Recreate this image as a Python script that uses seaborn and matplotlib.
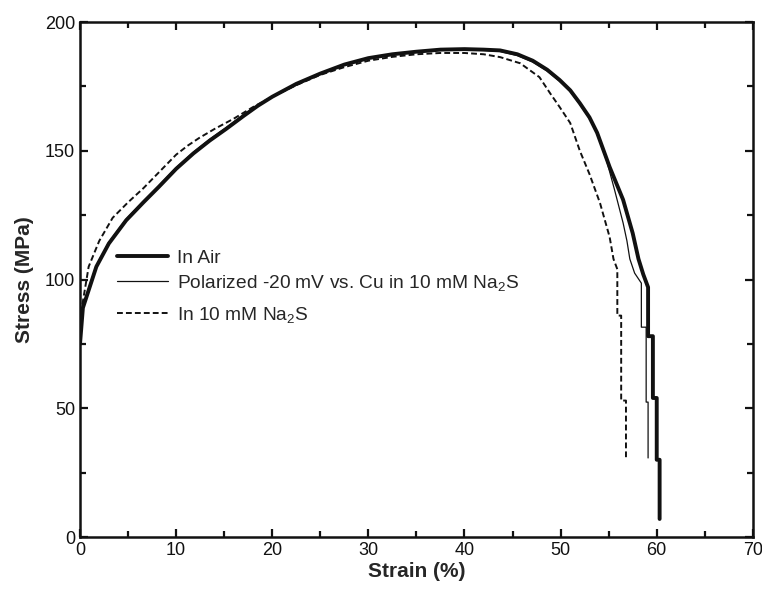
import matplotlib
matplotlib.use("Agg")
import matplotlib.pyplot as plt
import seaborn as sns
from matplotlib.ticker import MultipleLocator

# Engineering stress-strain curves (strain in %, stress in MPa)
air_strain = [0, 0.3, 1.7, 3, 4.8, 6.6, 8.2, 10, 11.8, 13.5, 15.2, 17, 18.5, 20,
              22.5, 25, 27.5, 30, 32.5, 35, 37.5, 40, 42, 43.7, 45.5, 47.1, 48.6,
              49.9, 51, 52, 53, 53.8, 55.1, 56.5, 57.5, 58.1, 58.6, 59.1,
              59.1, 59.6, 59.6, 60.0, 60.0, 60.3, 60.3]
air_stress = [75, 89, 105, 114, 123, 130, 136, 143, 149, 154, 158.5, 163.5, 167.5,
              171, 176, 180, 183.5, 186, 187.5, 188.5, 189.3, 189.5, 189.3, 189,
              187.5, 185, 181.5, 177.5, 173.5, 168.5, 163, 157, 143.7, 131, 118,
              108, 102, 97, 78, 78, 54, 54, 30, 30, 7]

pol_strain = [0, 0.3, 1.7, 3, 4.8, 6.6, 8.2, 10, 11.8, 13.5, 15.2, 17, 18.5, 20,
              22.5, 25, 27.5, 30, 32.5, 35, 37.5, 40, 42, 43.7, 45.5, 47.1, 48.6,
              49.9, 51, 52, 53, 53.8, 54.8, 55.6, 56.5, 56.9, 57.2, 57.7, 58.4,
              58.4, 58.9, 58.9, 59.1, 59.1]
pol_stress = [78, 90, 105.5, 114.5, 123.5, 130.5, 136.5, 143.5, 149.5, 154.5, 159,
              164, 167.5, 171, 175.5, 180, 183.5, 186, 187.5, 188.5, 189.2, 189.3,
              189, 188.6, 187, 184.5, 181, 177, 173, 168, 162.5, 156.5, 146, 135,
              122, 115, 108, 102.5, 98.6, 81.5, 81.5, 52.4, 52.4, 30.7]

na2s_strain = [0, 0.1, 0.9, 2, 3.4, 5, 6.6, 8.3, 10, 11.2, 12.4, 14, 16, 18, 20,
               22.5, 25, 27.5, 30, 32.5, 35, 37.5, 40, 42, 43.7, 45.8, 47.8, 48.9,
               49.9, 51, 52, 53, 54.1, 55.1, 55.5, 55.9, 55.9, 56.3, 56.3, 56.8,
               56.8]
na2s_stress = [80, 87, 105, 115, 124, 130, 135.5, 142, 148.5, 152, 155, 158.5,
               162.5, 167, 171, 175.5, 179.5, 182.5, 185, 186.5, 187.5, 188, 188,
               187.5, 186.4, 184, 178.6, 172.4, 167, 160.8, 150, 141, 129.7, 116.5,
               108, 104, 86, 86, 53, 53, 31]

labels = ["In Air",
          r"Polarized -20 mV vs. Cu in 10 mM Na$_\mathregular{2}$S",
          r"In 10 mM Na$_\mathregular{2}$S"]

sns.set_style("ticks")
plt.rcParams["font.family"] = ["Liberation Sans", "DejaVu Sans"]
plt.rcParams["mathtext.fontset"] = "custom"
plt.rcParams["mathtext.rm"] = "Liberation Sans"
plt.rcParams["mathtext.it"] = "Liberation Sans:italic"
plt.rcParams["mathtext.bf"] = "Liberation Sans:bold"

fig = plt.figure(figsize=(7.62, 5.97), dpi=100)
ax = fig.add_axes([0.105, 0.1005, 0.883, 0.8625])

sns.lineplot(x=air_strain, y=air_stress, sort=False, estimator=None, ax=ax,
             color="#111111", linewidth=2.8, label=labels[0])
sns.lineplot(x=pol_strain, y=pol_stress, sort=False, estimator=None, ax=ax,
             color="#111111", linewidth=0.9, label=labels[1])
sns.lineplot(x=na2s_strain, y=na2s_stress, sort=False, estimator=None, ax=ax,
             color="#111111", linewidth=1.4, label=labels[2])
ax.lines[2].set_dashes([3.0, 1.6])

ax.set_xlim(0, 70)
ax.set_ylim(0, 200)
ax.xaxis.set_major_locator(MultipleLocator(10))
ax.xaxis.set_minor_locator(MultipleLocator(5))
ax.yaxis.set_major_locator(MultipleLocator(50))
ax.yaxis.set_minor_locator(MultipleLocator(25))
ax.tick_params(which="both", direction="in", top=True, right=True, width=1.6,
               labelsize=13, colors="#111111")
ax.tick_params(which="major", length=6)
ax.tick_params(which="minor", length=4)
for s in ax.spines.values():
    s.set_linewidth(1.8)
    s.set_color("#111111")

ax.set_xlabel("Strain (%)", fontsize=15, fontweight="bold", labelpad=2)
ax.set_ylabel("Stress (MPa)", fontsize=15, fontweight="bold", labelpad=8)

# Legend drawn in two blocks so the last entry sits a little lower
handles = ax.get_legend_handles_labels()[0]
ax.get_legend().remove()
leg_kw = dict(frameon=False, fontsize=13.8, handlelength=2.65, handletextpad=0.47,
              labelspacing=0.33, borderaxespad=0, loc="upper left")
leg1 = ax.legend(handles[:2], labels[:2], bbox_to_anchor=(0.044, 0.574), **leg_kw)
ax.add_artist(leg1)
ax.legend(handles[2:], labels[2:], bbox_to_anchor=(0.044, 0.466), **leg_kw)

fig.savefig("out.png", dpi=100)
